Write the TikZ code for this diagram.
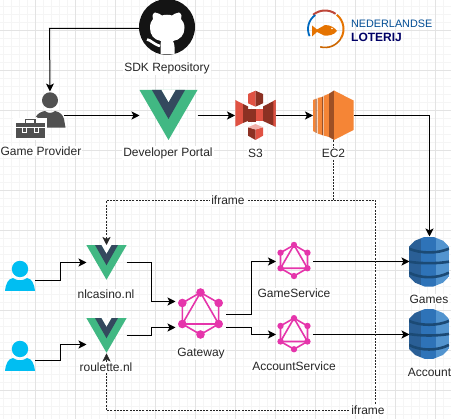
\documentclass[tikz,border=0pt]{standalone}
\usepackage{fontspec}
\setmainfont{Liberation Sans}
\usetikzlibrary{arrows.meta}
\definecolor{vuegreen}{HTML}{41B883}
\definecolor{vuedark}{HTML}{34495E}
\definecolor{gqlpink}{HTML}{E535AB}
\definecolor{userblue}{HTML}{00BEF2}
\definecolor{providergray}{HTML}{505050}
\definecolor{sthreelight}{HTML}{E05243}
\definecolor{sthreedark}{HTML}{8C3123}
\definecolor{ectwolight}{HTML}{F58536}
\definecolor{ectwodark}{HTML}{9D5025}
\definecolor{dynleft}{HTML}{2A5F96}
\definecolor{dynmid}{HTML}{2E73B8}
\definecolor{dynright}{HTML}{5294CF}
\definecolor{dynband}{HTML}{1B4A75}
\tikzset{
	link/.style={-{Stealth[length=8pt,width=8pt,inset=2pt]},line width=1pt},
	framelink/.style={link,line width=.5pt,dash pattern=on 2pt off 1.2pt,draw=black!85},
	iconbox/.style={inner sep=0,outer sep=0,minimum width=#1,minimum height=50},
	caption/.style={fill=white,inner sep=1pt,font=\fontsize{12}{14}\selectfont,text=black!85}
}
\newcommand{\vuelogo}[3]{
	\begin{scope}[shift={(#1,#2)},scale=#3]
	\fill[vuegreen] (-29,-25) -- (29,-25) -- (0,25) -- cycle;
	\fill[vuedark] (-16.5,-25) -- (-7,-25) -- (0,-13) -- (7,-25) -- (16.5,-25) -- (0,4) -- cycle;
	\fill[white] (-7,-25) -- (7,-25) -- (0,-13) -- cycle;
	\end{scope}
}
\newcommand{\gqllogo}[3]{
	\begin{scope}[shift={(#1,#2)},scale=#3]
	\draw[gqlpink,line width=1.6pt] (-90:21) -- (-30:21) -- (30:21) -- (90:21) -- (150:21) -- (210:21) -- cycle;
	\draw[gqlpink,line width=1.6pt] (-90:21) -- (30:21) -- (150:21) -- cycle;
	\foreach \a in {30,90,150,210,270,330}
		\fill[gqlpink] (\a:21) circle (4.3);
	\end{scope}
}
\newcommand{\userlogo}[2]{
	\begin{scope}[shift={(#1,#2)}]
	\fill[userblue] (0,-11) circle (8.2);
	\fill[userblue] (-15,11) .. controls (-14,3) and (-12,-1) .. (-7,-2) .. controls (-3,1) and (3,1) .. (7,-2) .. controls (12,-1) and (14,3) .. (15,11) -- cycle;
	\end{scope}
}
\newcommand{\dynamologo}[2]{
	\begin{scope}[shift={(#1,#2)}]
	\clip (-20,-15) -- (-14,-21) -- (-4,-25) -- (4,-25) -- (14,-21) -- (20,-15) -- (20,15) -- (14,21) -- (4,25) -- (-4,25) -- (-14,21) -- (-20,15) -- cycle;
	\fill[dynleft] (-20,-25) rectangle (-8,25);
	\fill[dynmid] (-8,-25) rectangle (7,25);
	\fill[dynright] (7,-25) rectangle (20,25);
	\draw[dynband,line width=2.6pt] (-20,-13) .. controls (-8,-8) and (8,-8) .. (20,-13);
	\draw[dynband,line width=2.6pt] (-20,0) .. controls (-8,2) and (8,2) .. (20,0);
	\draw[dynband,line width=2.6pt] (-20,11) .. controls (-8,17) and (8,17) .. (20,11);
	\end{scope}
}
\begin{document}
\begin{tikzpicture}[x=1pt,y=-1pt]
	\useasboundingbox (0,0) rectangle (451,419);
	\foreach \i in {0,...,56}
		\draw[black!4,line width=.6pt] (3.7+8*\i,0) -- (3.7+8*\i,419);
	\foreach \i in {0,...,52}
		\draw[black!4,line width=.6pt] (0,6+8*\i) -- (451,6+8*\i);
	\foreach \i in {0,...,10}
		\draw[black!11,line width=.7pt] (35.7+40*\i,0) -- (35.7+40*\i,419);
	\foreach \i in {0,...,9}
		\draw[black!11,line width=.7pt] (0,30+40*\i) -- (451,30+40*\i);

	\node[iconbox=56,minimum height=54] (repo) at (167,28.5) {};
	\node[iconbox=28,minimum height=30] (provider) at (50,106.5) {};
	\node[iconbox=58] (portal) at (168.5,115.5) {};
	\node[iconbox=41] (sthree) at (255.5,115.5) {};
	\node[iconbox=41] (ectwo) at (333.5,115.5) {};
	\node[iconbox=40,minimum height=35] (nlcasino) at (106.5,262.5) {};
	\node[iconbox=40,minimum height=35] (roulette) at (106.5,335.5) {};
	\node[iconbox=30,minimum height=22] (playerA) at (20,280.5) {};
	\node[iconbox=30,minimum height=22] (playerB) at (20,360.5) {};
	\node[iconbox=50] (gateway) at (200.5,314) {};
	\node[iconbox=37,minimum height=32] (gameservice) at (294.5,261.5) {};
	\node[iconbox=37,minimum height=32] (accountservice) at (294.5,334.5) {};
	\node[iconbox=40] (games) at (429.5,261.5) {};
	\node[iconbox=40] (accounts) at (429.5,334.5) {};
	\coordinate (repoturn) at (49.5,28.5);
	\coordinate (iframesplit) at (333.5,200.5);
	\coordinate (iframeleft) at (106.5,200.5);
	\coordinate (iframeright) at (375.5,200.5);
	\coordinate (iframecorner) at (375.5,410.5);
	\coordinate (iframebottom) at (106.5,410.5);
	\coordinate (gatewayout) at (226,314.5);
	\coordinate (gatewayoutb) at (226,327.5);

	\fill[black!92] (167,27) circle (28);
	\fill[white] (161,41) .. controls (154,40) and (150,35) .. (150,28) .. controls (150,24) and (151,21) .. (153,19) .. controls (152,17) and (152,14) .. (155,12.5) .. controls (158,13) and (160,14) .. (162,15.5) .. controls (165,14.5) and (169,14.5) .. (172,15.5) .. controls (174,14) and (176,13) .. (179,12.5) .. controls (182,14) and (182,17) .. (181,19) .. controls (183,21) and (184.5,24) .. (184.5,28) .. controls (184.5,35) and (180,40) .. (173,41) .. controls (174,43) and (174.5,45) .. (174.5,47) -- (174.5,54.5) -- (160.5,54.5) -- (160.5,47) .. controls (160.5,45) and (160.5,43) .. (161,41) -- cycle;
	\draw[white,line width=2.6pt] (147,39.5) .. controls (151,40) and (153,44) .. (160,46);

	\fill[providergray] (50,100.3) circle (8);
	\fill[providergray] (36,116.5) .. controls (38,113) and (42,111.5) .. (45,111) .. controls (48,113.5) and (52,113.5) .. (55,111) .. controls (60,112) and (63,115) .. (64,119) -- (65.5,127.7) -- (43,127.7) -- (43,121) -- (40,119.5) -- cycle;
	\fill[white] (13,118) rectangle (47,140);
	\draw[providergray,line width=1.3pt] (25.5,123.5) -- (25.5,119.5) -- (35,119.5) -- (35,123.5);
	\fill[providergray] (15.7,123.3) rectangle (45,138.3);
	\draw[white,line width=.7pt] (15.7,127.7) -- (45,127.7);
	\foreach \x in {24,36.7}
		\draw[white,fill=providergray,line width=1pt] (\x-2,127.5) rectangle (\x+2,133);

	\vuelogo{168.5}{115}{1}
	\vuelogo{106.5}{262.5}{.69}
	\vuelogo{106.5}{335.5}{.69}

	\fill[sthreelight] (235.3,100) -- (243,104) -- (243,123) -- (235.3,126.7) -- cycle;
	\fill[sthreedark] (243,104) -- (248,106.5) -- (248,121) -- (243,123) -- cycle;
	\fill[sthreedark] (275.5,100) -- (263,106.5) -- (263,121) -- (275.5,126.7) -- cycle;
	\fill[sthreelight] (275.5,100) -- (273.3,101) -- (273.3,125.7) -- (275.5,126.7) -- cycle;
	\fill[sthreelight] (248,94) -- (255.5,90.7) -- (255.5,106.7) -- (248,103.3) -- cycle;
	\fill[sthreedark] (263,94) -- (255.5,90.7) -- (255.5,106.7) -- (263,103.3) -- cycle;
	\fill[sthreedark] (248,109.5) rectangle (255.5,122);
	\fill[sthreelight] (255.5,109) rectangle (263,121.5);
	\fill[sthreedark] (248,127.3) -- (255.5,129.5) -- (255.5,140) -- (248,135.7) -- cycle;
	\fill[sthreelight] (263,127.3) -- (255.5,129.5) -- (255.5,140) -- (263,135.7) -- cycle;
	\fill[sthreelight!45] (248,127.3) -- (255.5,124) -- (263,127.3) -- (255.5,129.5) -- cycle;

	\fill[ectwolight] (313,100) -- (315.5,99) -- (315.5,132.5) -- (313,131) -- cycle;
	\fill[ectwodark] (315.5,99) -- (316.5,98.7) -- (316.5,133) -- (315.5,132.5) -- cycle;
	\fill[ectwolight] (317.5,98) -- (322,97) -- (322,135) -- (317.5,133.5) -- cycle;
	\fill[ectwodark] (322,97) -- (323,96.5) -- (323,135.5) -- (322,135) -- cycle;
	\fill[ectwolight] (323.5,96) -- (329,93.7) -- (329,137) -- (323.5,135.5) -- cycle;
	\fill[ectwodark] (329,93.7) -- (334,90.5) -- (334,140) -- (329,137) -- cycle;
	\fill[ectwolight] (334,90.5) -- (353.5,100.5) -- (353.5,130) -- (334,140) -- cycle;

	\userlogo{20}{280}
	\userlogo{20}{360}
	\gqllogo{200.5}{313.5}{1}
	\gqllogo{294}{260.5}{.74}
	\gqllogo{294}{333.7}{.74}
	\dynamologo{429}{261.7}
	\dynamologo{429}{334}

	\draw[sthreelight!85!black,line width=2pt] (325,29) ++(-55:18.5) arc[start angle=-55,end angle=-130,radius=18.5];
	\draw[orange!90!black,line width=2pt] (325,29) ++(-50:18.5) arc[start angle=-50,end angle=30,radius=18.5];
	\draw[orange!80!black,line width=1.6pt] (325,29) ++(30:18.5) arc[start angle=30,end angle=105,radius=18.5];
	\draw[blue!45!cyan!75!black,line width=1.8pt] (325,29) ++(-125:17) arc[start angle=-125,end angle=-205,radius=17];
	\fill[orange!90!black] (312,25.5) -- (317,29.5) -- (325,25) .. controls (331,25) and (335,28) .. (337,31) .. controls (334,35) and (329,36) .. (324,35.5) -- (317,32) -- (312,36.5) -- cycle;
	\fill[white] (332,28.5) circle (.8);
	\node[anchor=west,inner sep=0,font=\fontsize{10.8}{12}\selectfont,text=blue!40!black!70!cyan] (brandtop) at (351,24) {NEDERLANDSE};
	\node[anchor=west,inner sep=0,font=\bfseries\fontsize{12}{14}\selectfont,text=blue!40!black] (brandbottom) at (351,37) {LOTERIJ};

	\draw[link] (repo.west) -- (repoturn) -- (provider.north);
	\draw[link] ([yshift=-9pt]provider.east) -- (portal.west);
	\draw[link] (portal.east) -- (sthree.west);
	\draw[link] (sthree.east) -- (ectwo.west);
	\draw[link] (ectwo.east) -| (games.north);
	\draw[link] (playerA.east) -- ++(25.5,0) |- (nlcasino.west);
	\draw[link] (playerB.east) -- ++(25.5,0) |- ([yshift=-9pt]roulette.west);
	\draw[link] (nlcasino.east) -- ++(25,0) |- ([yshift=12.5pt]gateway.west);
	\draw[link] (roulette.east) -- ++(25,0) |- ([yshift=-13.5pt]gateway.west);
	\draw[link] (gatewayout) -- ++(25.5,0) |- (gameservice.west);
	\draw[link] (gatewayoutb) -- ++(25.5,0) |- (accountservice.west);
	\draw[link] (gameservice.east) -- (games.west);
	\draw[link] (accountservice.east) -- (accounts.west);
	\draw[framelink] (ectwo.south) -- (iframesplit) -- (iframeleft) -- (nlcasino.north);
	\draw[framelink] (iframesplit) -- (iframeright) -- (iframecorner) -- (iframebottom) -- ([yshift=-.5pt]roulette.south);

	\node[caption] (repolabel) at (167,68) {SDK Repository};
	\node[caption] (providerlabel) at (41,151) {Game Provider};
	\node[caption] (portallabel) at (168,153) {Developer Portal};
	\node[caption] (sthreelabel) at (255.5,153) {S3};
	\node[caption] (ectwolabel) at (333.5,153) {EC2};
	\node[caption] (iframetop) at (228,200) {iframe};
	\node[caption] (iframelow) at (368,410) {iframe};
	\node[caption] (nlcasinolabel) at (106,294) {nlcasino.nl};
	\node[caption] (roulettelabel) at (106,367) {roulette.nl};
	\node[caption] (gatewaylabel) at (201,353.7) {Gateway};
	\node[caption] (gamelabel) at (294,293) {GameService};
	\node[caption] (accountlabel) at (294,366.7) {AccountService};
	\node[caption] (gameslabel) at (429,299) {Games};
	\node[caption] (accountslabel) at (429.5,372.7) {Account};
\end{tikzpicture}
\end{document}
